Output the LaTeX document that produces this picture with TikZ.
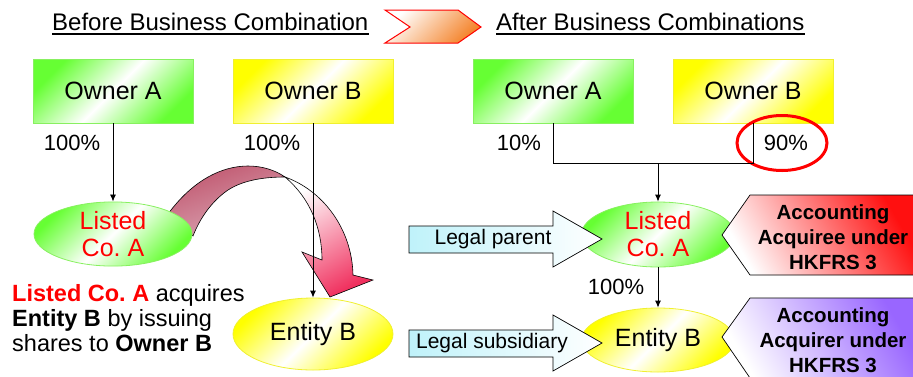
\documentclass[tikz,border=0pt]{standalone}
\usepackage{fontspec}
\setmainfont{Liberation Sans}
\usetikzlibrary{arrows.meta,shapes.geometric}
\frenchspacing
\definecolor{gr}{HTML}{66FF33}
\definecolor{grline}{HTML}{88F060}
\definecolor{ye}{HTML}{FFFF00}
\definecolor{yeline}{HTML}{F0F030}
\definecolor{txtred}{HTML}{FF0000}
\definecolor{chev}{HTML}{F4832A}
\definecolor{cy}{HTML}{BFF2FA}
\definecolor{acqred}{HTML}{FF1010}
\definecolor{acqpur}{HTML}{9966FF}
\definecolor{ribdark}{HTML}{C0566E}
\definecolor{ribmid}{HTML}{DCAAB8}
\definecolor{ribpink}{HTML}{F0305E}
\begin{document}
\begin{tikzpicture}[x=1pt,y=-1pt,
  every node/.style={inner sep=0pt},
  fT/.style={font=\fontsize{24}{28}\selectfont},
  ownerbox/.style={rectangle, minimum width=160pt, minimum height=64pt,
     draw=#1line, line width=0.8pt, top color=#1, bottom color=#1, middle color=white,
     shading angle=45, font=\fontsize{25}{28}\selectfont},
  entell/.style={ellipse, draw=#1line, line width=0.8pt, top color=#1, bottom color=#1,
     middle color=white, shading angle=45, align=center},
  pct/.style={font=\fontsize{22}{26}\selectfont},
  conn/.style={line width=0.9pt, -{Latex[length=7pt,width=6pt]}},
  plainline/.style={line width=0.9pt},
  legalarrow/.style={draw=black, line width=0.7pt, left color=cy, right color=white},
  legaltext/.style={font=\fontsize{21}{25}\selectfont},
  accbox/.style={draw=black, line width=0.7pt, top color=#1, bottom color=white, shading angle=-60},
  acctext/.style={font=\bfseries\fontsize{20.5}{25}\selectfont, align=center},
]
\useasboundingbox (0,0) rectangle (913,376);

% titles
\node[fT, anchor=base west] (t1) at (52,30) {Before Business Combination};
\draw[line width=2pt] ([yshift=-4pt]t1.base west) -- ([yshift=-4pt]t1.base east);
\node[fT, anchor=base west] (t2) at (496,30) {After Business Combinations};
\draw[line width=2pt] ([yshift=-4pt]t2.base west) -- ([yshift=-4pt]t2.base east);
\path[draw=red, line width=1pt, top color=white, bottom color=chev, shading angle=45]
  (385,10) -- (458,10) -- (481,27) -- (458,43) -- (385,43) -- (410,27) -- cycle;

% ---------- before ----------
\node[ownerbox=gr] (oa1) at (113,91) {Owner A};
\node[ownerbox=ye] (ob1) at (313,91) {Owner B};
\node[pct] (p1) at (72,143) {100\%};
\node[pct] (p2) at (272,143) {100\%};

% ribbon arrow
\path[draw=black, line width=0.6pt, top color=ribdark, bottom color=ribmid, shading angle=20]
  (168,214) .. controls (193,180) and (222,166) .. (248,166)
  .. controls (262,166) and (275,170) .. (285,177)
  .. controls (268,177) and (245,179) .. (228,190)
  .. controls (212,201) and (200,218) .. (193,236) -- cycle;
\path[draw=black, line width=0.6pt, top color=white, bottom color=ribpink, shading angle=30]
  (285,177) .. controls (322,190) and (352,228) .. (353,275)
  -- (373,280) -- (330,297) -- (302,252) -- (322,260)
  .. controls (322,228) and (310,198) .. (285,177) -- cycle;

\node[entell=gr, minimum width=158pt, minimum height=62pt, text=txtred,
  font=\fontsize{25}{27}\selectfont] (la1) at (113,234) {Listed\\Co. A};
\node[entell=ye, minimum width=160pt, minimum height=72pt,
  font=\fontsize{25}{27}\selectfont] (eb1) at (313,334) {Entity B};

\draw[conn] (oa1.south) -- (la1.north);
\draw[conn] (ob1.south) -- (eb1.north);

\node[anchor=west, align=left, font=\fontsize{23.5}{25}\selectfont] (desc) at (12,318)
  {\textcolor{txtred}{\textbf{Listed Co. A}} acquires\\\textbf{Entity B} by issuing\\shares to \textbf{Owner B}};

% ---------- after ----------
\node[ownerbox=gr] (oa2) at (553,91) {Owner A};
\node[ownerbox=ye] (ob2) at (753,91) {Owner B};
\node[pct] (p3) at (519,143) {10\%};
\node[pct] (p4) at (786,143) {90\%};
\node[ellipse, draw=red, line width=3pt, minimum width=90pt, minimum height=55pt] (ring) at (782,143) {};

\node[entell=gr, minimum width=153pt, minimum height=65pt, text=txtred,
  font=\fontsize{25}{27}\selectfont] (la2) at (658,234.5) {Listed\\Co. A};
\node[entell=ye, minimum width=153pt, minimum height=64pt,
  font=\fontsize{25}{27}\selectfont] (eb2) at (658,340) {Entity B};

\coordinate (j) at (658,163);
\draw[plainline] (oa2.south) |- (j);
\draw[plainline] (ob2.south) |- (j);
\draw[conn] (j) -- (la2.north);
\draw[conn] (la2.south) -- (eb2.north);
\node[pct] (p5) at (616,287) {100\%};

% legal arrows
\path[legalarrow] (409,226) -- (553,226) -- (553,211) -- (602,239) -- (553,267) -- (553,253) -- (409,253) -- cycle;
\node[legaltext] (lp) at (493,239) {Legal parent};
\path[legalarrow] (409,330) -- (553,330) -- (553,315) -- (602,343) -- (553,371) -- (553,357) -- (409,357) -- cycle;
\node[legaltext] (ls) at (492,343) {Legal subsidiary};

% accounting boxes
\path[accbox=acqred] (722,235) -- (750,195) -- (916,195) -- (916,275) -- (750,275) -- cycle;
\node[acctext] (acq1) at (833,237) {Accounting\\Acquiree under\\HKFRS 3};
\path[accbox=acqpur] (722,337) -- (750,298) -- (916,298) -- (916,378) -- (750,378) -- cycle;
\node[acctext] (acq2) at (833,340) {Accounting\\Acquirer under\\HKFRS 3};
\end{tikzpicture}
\end{document}
